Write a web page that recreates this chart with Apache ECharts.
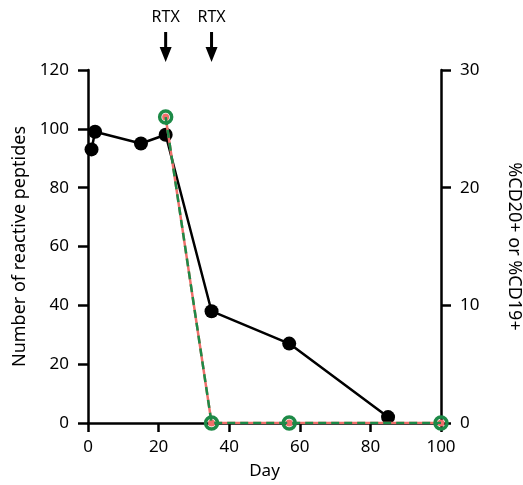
<!DOCTYPE html>
<html>
<head>
<meta charset="utf-8">
<script src="https://cdn.jsdelivr.net/npm/echarts@6/dist/echarts.min.js"></script>
<style>
  html, body { margin: 0; padding: 0; background: #fff; overflow: hidden; }
  #chart { width: 523px; height: 485px; }
</style>
</head>
<body>
<div id="chart"></div>
<script>
// values
const peptideDays = [1, 2, 15, 22, 35, 57, 85]
const peptides = [93, 99, 95, 98, 38, 27, 2]
const cellDays = [22, 35, 57, 100]
const cd20 = [26, 0, 0, 0]
const cd19 = [26, 0, 0, 0]
const rtxDays = [22, 35]

const font = 'Noto Sans'
const green = '#1d8a47'
const red = '#ef6f6a'

const pairs = (xs, ys) => xs.map((x, i) => [x, ys[i]])

const arrow = 'path://M4.5,0 L7.5,0 L7.5,15 L12,15 L6,30 L0,15 L4.5,15 Z'

const axisLine = { show: true, lineStyle: { color: '#000', width: 2.5 } }
const tickStyle = { color: '#000', width: 2.5 }
const labelStyle = { color: '#000', fontSize: 17, fontFamily: font }

const chart = echarts.init(document.getElementById('chart'))
chart.setOption({
    backgroundColor: '#fff',
    animation: false,
    grid: { left: 88, right: 82, top: 70, bottom: 62, containLabel: false, outerBoundsMode: 'none' },
    xAxis: {
        type: 'value', min: 0, max: 100, interval: 20,
        name: 'Day', nameLocation: 'middle', nameGap: 40,
        nameTextStyle: { color: '#000', fontSize: 17, fontFamily: font },
        axisLine: axisLine,
        axisTick: { show: true, length: 9, lineStyle: tickStyle },
        axisLabel: { ...labelStyle, margin: 16 },
        splitLine: { show: false }
    },
    yAxis: [
        {
            type: 'value', min: 0, max: 120, interval: 20, position: 'left',
            name: 'Number of reactive peptides', nameLocation: 'middle', nameGap: 51, nameRotate: 90,
            nameTextStyle: { color: '#000', fontSize: 18, fontFamily: font },
            axisLine: axisLine,
            axisTick: { show: true, length: 10, lineStyle: tickStyle },
            axisLabel: { ...labelStyle, margin: 19 },
            splitLine: { show: false }
        },
        {
            type: 'value', min: 0, max: 30, interval: 10, position: 'right',
            name: '%CD20+ or %CD19+', nameLocation: 'middle', nameGap: 64, nameRotate: -90,
            nameTextStyle: { color: '#000', fontSize: 18, fontFamily: font },
            axisLine: axisLine,
            axisTick: { show: true, length: 10, lineStyle: tickStyle },
            axisLabel: { ...labelStyle, margin: 19 },
            splitLine: { show: false }
        }
    ],
    series: [
        {
            name: 'CD20', type: 'line', yAxisIndex: 1,
            data: pairs(cellDays, cd20),
            symbol: 'circle', symbolSize: 7,
            itemStyle: { color: red },
            lineStyle: { color: red, width: 2.5 },
            z: 3
        },
        {
            name: 'CD19', type: 'line', yAxisIndex: 1,
            data: pairs(cellDays, cd19),
            symbol: 'circle', symbolSize: 12,
            itemStyle: { color: 'rgba(0,0,0,0)', borderColor: green, borderWidth: 3.5 },
            lineStyle: { color: green, width: 2.5, type: [8, 5] },
            z: 4
        },
        {
            name: 'Peptides', type: 'line', yAxisIndex: 0,
            data: pairs(peptideDays, peptides),
            symbol: 'circle', symbolSize: 14,
            itemStyle: { color: '#000' },
            lineStyle: { color: '#000', width: 2.5 },
            z: 2,
            markPoint: {
                symbol: arrow, symbolSize: [12, 30], symbolOffset: [0, -23],
                itemStyle: { color: '#000' },
                label: {
                    show: true, position: 'top', distance: 7,
                    color: '#000', fontSize: 16, fontFamily: font,
                    formatter: 'RTX'
                },
                data: rtxDays.map(d => ({ coord: [d, 120] }))
            }
        }
    ]
})
</script>
</body>
</html>
